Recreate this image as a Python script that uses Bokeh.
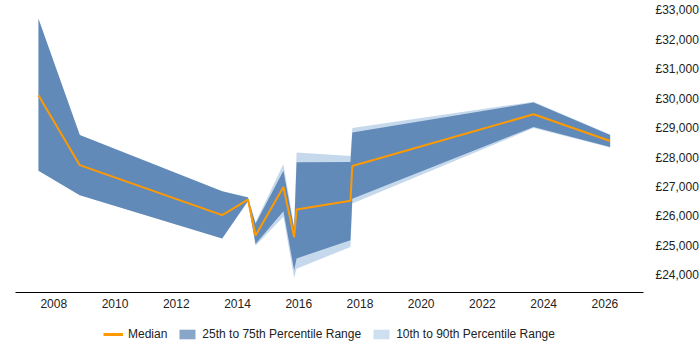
from bokeh.plotting import figure
from bokeh.layouts import column
from bokeh.models import (ColumnDataSource, Legend, LegendItem, SingleIntervalTicker,
                          LinearAxis, Range1d)
from bokeh.embed import file_html
from bokeh.resources import INLINE

# Salary percentiles by date (fractional years)
years = [2007.50, 2008.85, 2013.50, 2014.34, 2014.59, 2015.50, 2015.85, 2015.93,
         2017.69, 2017.75, 2023.67, 2026.17]
median = [30120, 27740, 26040, 26570, 25350, 27000, 25290, 26230,
          26530, 27710, 29470, 28560]
p25 = [27550, 26720, 25250, 26520, 25060, 26170, 24170, 24570,
       25190, 26600, 29040, 28360]
p75 = [32720, 28770, 26850, 26640, 25750, 27550, 25580, 27840,
       27850, 28850, 29870, 28770]
p10 = [27550, 26720, 25250, 26500, 25000, 25990, 23900, 24220,
       24960, 26440, 29000, 28340]
p90 = [32720, 28770, 26850, 26660, 25800, 27780, 25650, 28170,
       28050, 29000, 29900, 28780]

y_tick_values = [24000, 25000, 26000, 27000, 28000, 29000, 30000, 31000, 32000, 33000]
y_tick_labels = ["£24,000", "£25,000", "£26,000", "£27,000", "£28,000",
                 "£29,000", "£30,000", "£31,000", "£32,000", "£33,000"]

FONT = "Liberation Sans"
MEDIAN_COLOR = "#ff9900"
IQR_COLOR = "#3f6fa6"
DECILE_COLOR = "#c6d9ec"

src = ColumnDataSource(dict(x=years, med=median, p25=p25, p75=p75, p10=p10, p90=p90))

p = figure(frame_width=628, frame_height=287, output_backend="svg", toolbar_location=None,
           x_range=Range1d(2006.75, 2027.26), y_range=Range1d(23410, 33170),
           x_axis_type=None, y_axis_type=None,
           min_border_left=15, min_border_top=5, min_border_right=0, min_border_bottom=0)
p.outline_line_color = None
p.background_fill_color = "white"
p.border_fill_color = "white"

# axes
xaxis = LinearAxis(ticker=SingleIntervalTicker(interval=2, num_minor_ticks=0))
xaxis.axis_line_color = "black"
xaxis.major_tick_line_color = None
xaxis.minor_tick_line_color = None
xaxis.major_tick_out = 0
xaxis.major_tick_in = 0
xaxis.major_label_standoff = 6
xaxis.major_label_text_font = FONT
xaxis.major_label_text_font_size = "12px"
xaxis.major_label_text_color = "#222222"
p.add_layout(xaxis, "below")

yaxis = LinearAxis(ticker=SingleIntervalTicker(interval=1000, num_minor_ticks=5))
yaxis.axis_line_color = None
yaxis.major_tick_line_color = None
yaxis.minor_tick_line_color = None
yaxis.major_tick_out = 0
yaxis.major_tick_in = 0
yaxis.major_label_standoff = 8
yaxis.major_label_text_font = FONT
yaxis.major_label_text_font_size = "12px"
yaxis.major_label_text_color = "#222222"
yaxis.major_label_overrides = dict(zip(y_tick_values, y_tick_labels))
p.add_layout(yaxis, "right")

p.xgrid.ticker = xaxis.ticker
p.ygrid.ticker = yaxis.ticker
p.xgrid.grid_line_color = "#c8c8c8"
p.ygrid.grid_line_color = "#cccccc"
p.ygrid.minor_grid_line_color = "#e6e6e6"

# bands and median
p.varea(x="x", y1="p10", y2="p90", source=src, fill_color=DECILE_COLOR, fill_alpha=1.0)
p.varea(x="x", y1="p25", y2="p75", source=src, fill_color=IQR_COLOR, fill_alpha=0.74)
p.line(x="x", y="med", source=src, line_color=MEDIAN_COLOR, line_width=2)

# legend strip underneath the chart; its renderers share the data but sit outside
# this strip's (0..1) ranges, so only their legend swatches show
leg = figure(width=700, height=40, output_backend="svg", toolbar_location=None,
             x_range=Range1d(0, 1), y_range=Range1d(0, 1),
             x_axis_type=None, y_axis_type=None,
             min_border_left=0, min_border_right=0, min_border_top=0, min_border_bottom=0)
leg.outline_line_color = None
leg.xgrid.visible = False
leg.ygrid.visible = False
k_med = leg.line(x="x", y="med", source=src, line_color=MEDIAN_COLOR, line_width=3)
k_iqr = leg.varea(x="x", y1="p25", y2="p75", source=src, fill_color=IQR_COLOR, fill_alpha=0.62)
k_dec = leg.varea(x="x", y1="p10", y2="p90", source=src, fill_color=DECILE_COLOR, fill_alpha=0.85)

legend = Legend(items=[
    LegendItem(label="Median", renderers=[k_med]),
    LegendItem(label="25th to 75th Percentile Range", renderers=[k_iqr]),
    LegendItem(label="10th to 90th Percentile Range", renderers=[k_dec]),
], orientation="horizontal", location=(88, 8))
legend.border_line_color = None
legend.background_fill_alpha = 0
legend.label_text_font = FONT
legend.label_text_font_size = "12px"
legend.label_text_color = "#222222"
legend.glyph_width = 20
legend.glyph_height = 12
legend.label_height = 16
legend.label_standoff = 5
legend.spacing = 10
legend.padding = 4
legend.margin = 0
leg.add_layout(legend)

layout = column(p, leg, spacing=0)
open("out.html", "w").write(file_html(layout, INLINE))
